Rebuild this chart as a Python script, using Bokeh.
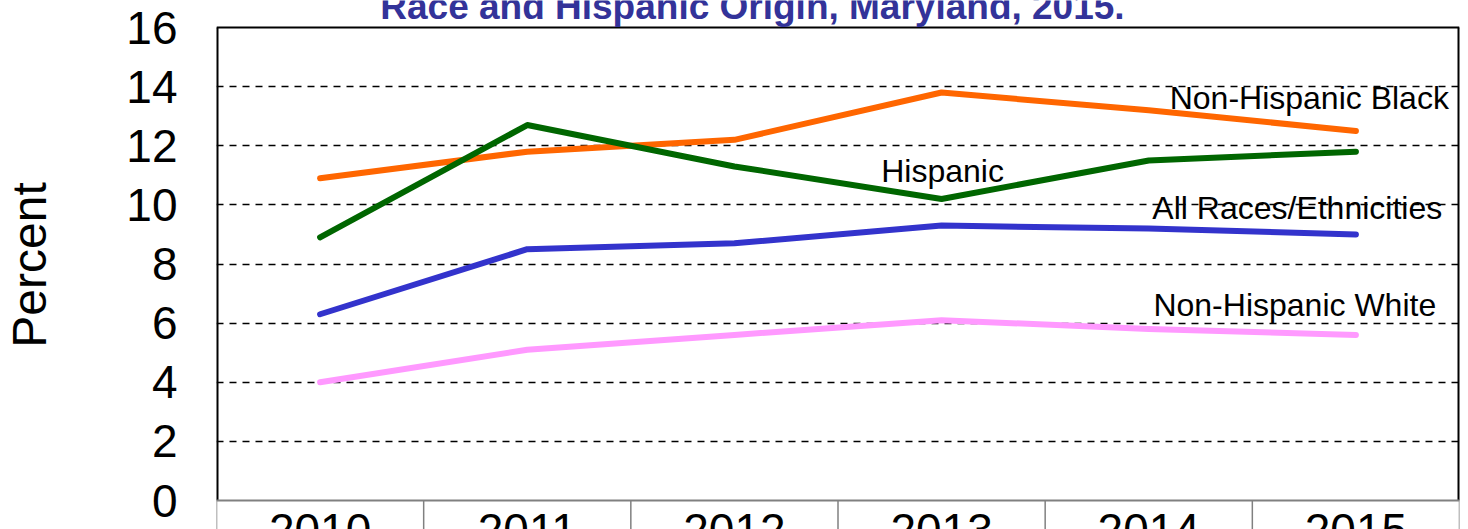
from bokeh.plotting import figure
from bokeh.models import Range1d, FactorRange, FixedTicker, Label, Span
from bokeh.embed import file_html
from bokeh.resources import INLINE
from bokeh.core.properties import value

# ---- data ----
years = ["2010", "2011", "2012", "2013", "2014", "2015"]
nh_black = [10.9, 11.8, 12.2, 13.8, 13.2, 12.5]
hispanic = [8.9, 12.7, 11.3, 10.2, 11.5, 11.8]
all_races = [6.3, 8.5, 8.7, 9.3, 9.2, 9.0]
nh_white = [4.0, 5.1, 5.6, 6.1, 5.8, 5.6]
y_ticks = [0, 2, 4, 6, 8, 10, 12, 14, 16]
grid_ticks = [2, 4, 6, 8, 10, 12, 14]
y_max = 16
title_text = "Race and Hispanic Origin, Maryland, 2015."
y_label = "Percent"

FONT = "Liberation Sans"
PX_PER_UNIT = 473 / 16.0
y_bottom = -29 / PX_PER_UNIT
y_top = y_max + 27 / PX_PER_UNIT

p = figure(
    x_range=FactorRange(*years),
    y_range=Range1d(y_bottom, y_top),
    width=1468, height=529,
    output_backend="svg", toolbar_location=None,
    x_axis_location=None,
    min_border_left=216, min_border_right=9,
    min_border_top=0, min_border_bottom=0,
)

p.outline_line_color = None
p.background_fill_color = "white"
p.border_fill_color = "white"

p.xgrid.grid_line_color = None
p.ygrid.ticker = FixedTicker(ticks=grid_ticks)
p.ygrid.grid_line_color = "black"
p.ygrid.grid_line_width = 1.5
p.ygrid.grid_line_dash = "7 6"

ya = p.yaxis[0]
ya.ticker = FixedTicker(ticks=y_ticks)
ya.major_tick_out = 0
ya.major_tick_in = 0
ya.minor_tick_out = 0
ya.minor_tick_in = 0
ya.axis_line_color = None
ya.major_label_text_font = FONT
ya.major_label_text_font_size = "46px"
ya.major_label_text_color = "black"
ya.major_label_standoff = 39
ya.axis_label = y_label
ya.axis_label_text_font = FONT
ya.axis_label_text_font_size = "48px"
ya.axis_label_text_font_style = "normal"
ya.axis_label_text_color = "black"
ya.axis_label_standoff = 67

# plot-area border (top, left, right)
left_edge = (years[0], -0.5)
right_edge = (years[-1], 0.5)
p.segment(x0=[left_edge], y0=[y_max], x1=[right_edge], y1=[y_max],
          line_color="black", line_width=2)
p.segment(x0=[left_edge, right_edge], y0=[0, 0], x1=[left_edge, right_edge], y1=[y_max, y_max],
          line_color="black", line_width=4)

# category-axis "table" below the zero line
p.add_layout(Span(location=0, dimension="width", line_color="#808080", line_width=2))
bounds = [(y, -0.5) for y in years] + [(years[-1], 0.5)]
p.segment(x0=bounds, y0=[0] * len(bounds), x1=bounds, y1=[y_bottom] * len(bounds),
          line_color="#808080", line_width=1.5)
p.text(x=years, y=[-0.44] * len(years), text=years,
       text_font=value(FONT), text_font_size="46px", text_align="center",
       text_baseline="top", text_color="black")

# series lines
series = [
    (nh_black, "#FF6600"),
    (hispanic, "#006600"),
    (all_races, "#3333CC"),
    (nh_white, "#FF99FF"),
]
for vals, col in series:
    p.line(x=years, y=vals, line_color=col, line_width=6, line_cap="round", line_join="round")

# series labels
labels = [
    ("Non-Hispanic Black", 5.275, 13.63),
    ("Hispanic", 3.505, 11.16),
    ("All Races/Ethnicities", 5.217, 9.88),
    ("Non-Hispanic White", 5.205, 6.63),
]
for txt, lx, ly in labels:
    p.add_layout(Label(x=lx, y=ly, text=txt, text_font=FONT, text_font_size="32px",
                       text_align="center", text_baseline="middle", text_color="black"))

# title (its upper part lies above the picture, as in the reference)
p.add_layout(Label(x=2.587, y=y_max + 21 / PX_PER_UNIT, text=title_text,
                   text_font=FONT, text_font_size="37px", text_font_style="bold",
                   text_align="center", text_baseline="alphabetic", text_color="#333399"))

open("out.html", "w").write(file_html(p, INLINE))
